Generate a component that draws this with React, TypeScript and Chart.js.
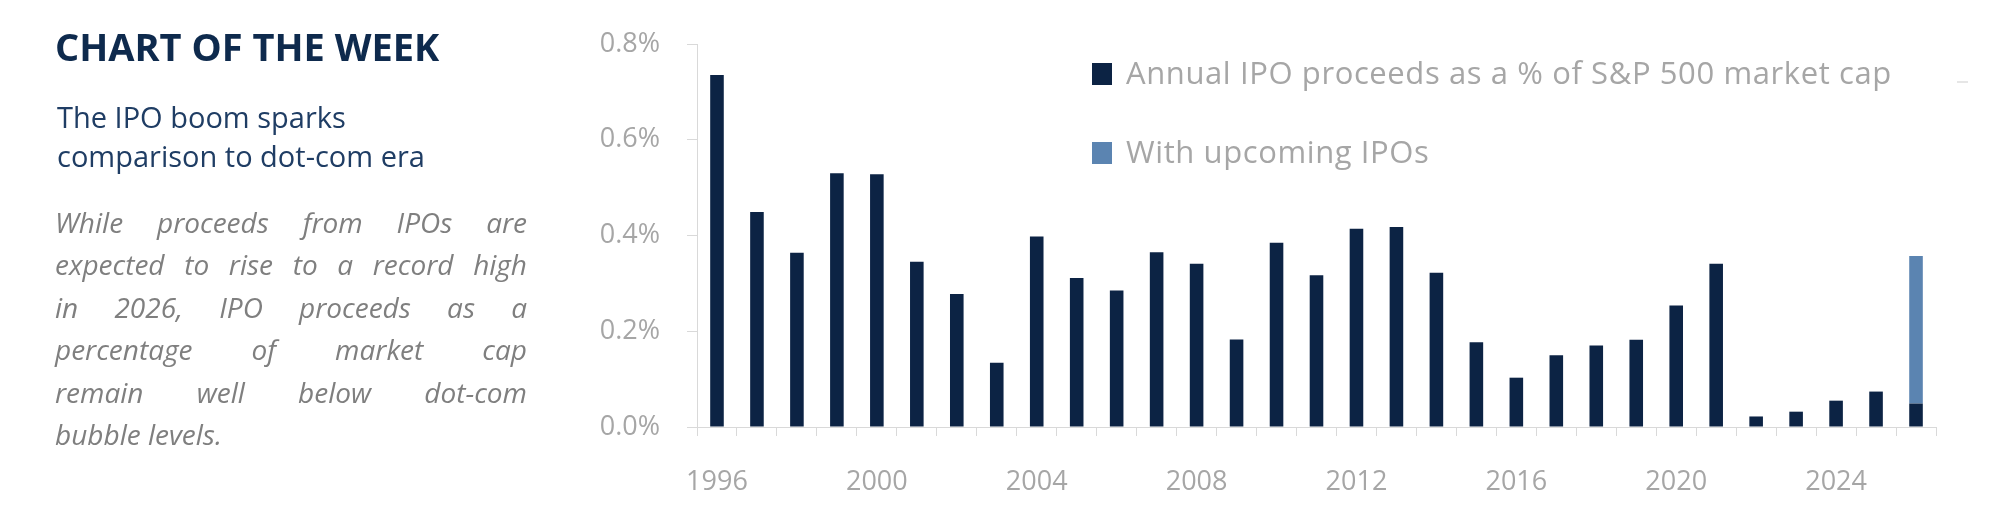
import React, { useEffect, useRef } from "react";
import { Chart, registerables } from "chart.js";

Chart.register(...registerables);

const years = [
  "1996", "1997", "1998", "1999", "2000", "2001", "2002", "2003", "2004", "2005",
  "2006", "2007", "2008", "2009", "2010", "2011", "2012", "2013", "2014", "2015",
  "2016", "2017", "2018", "2019", "2020", "2021", "2022", "2023", "2024", "2025", "2026",
];

const annualProceeds = [
  0.735, 0.449, 0.364, 0.530, 0.528, 0.345, 0.278, 0.134, 0.398, 0.311,
  0.285, 0.365, 0.341, 0.183, 0.385, 0.317, 0.414, 0.418, 0.322, 0.177,
  0.103, 0.150, 0.170, 0.182, 0.254, 0.341, 0.022, 0.032, 0.055, 0.074, 0.049,
];

const upcomingIpos = [
  null, null, null, null, null, null, null, null, null, null,
  null, null, null, null, null, null, null, null, null, null,
  null, null, null, null, null, null, null, null, null, null, 0.308,
];

const xTickLabels = ["1996", "2000", "2004", "2008", "2012", "2016", "2020", "2024"];
const yTickValues = [0, 0.2, 0.4, 0.6, 0.8];

const seriesNames = ["Annual IPO proceeds as a % of S&P 500 market cap", "With upcoming IPOs"];
const NAVY = "#0c2344";
const LIGHT = "#5b84b1";
const GREY_TXT = "#a6a6a6";
const AXIS = "#d9d9d9";
const FONT = "'Open Sans', 'Noto Sans', sans-serif";

const bodyLines = [
  "While proceeds from IPOs are",
  "expected to rise to a record high",
  "in 2026, IPO proceeds as a",
  "percentage of market cap",
  "remain well below dot-com",
  "bubble levels.",
];

export default function App() {
  const ref = useRef<HTMLCanvasElement | null>(null);

  useEffect(() => {
    if (!ref.current) return;
    const chart = new Chart(ref.current, {
      type: "bar",
      data: {
        labels: years,
        datasets: [
          {
            label: seriesNames[0],
            data: annualProceeds,
            backgroundColor: NAVY,
            barPercentage: 0.34,
            categoryPercentage: 1,
          },
          {
            label: seriesNames[1],
            data: upcomingIpos as any,
            backgroundColor: LIGHT,
            barPercentage: 0.34,
            categoryPercentage: 1,
          },
        ],
      },
      options: {
        responsive: false,
        animation: false,
        layout: { padding: { left: 557, right: 70, top: 44, bottom: 0 } },
        plugins: { legend: { display: false }, tooltip: { enabled: false } },
        scales: {
          x: {
            stacked: true,
            grid: { drawOnChartArea: false, drawTicks: true, tickLength: 9, color: AXIS, offset: true },
            border: { color: AXIS, width: 1 },
            ticks: {
              autoSkip: false,
              maxRotation: 0,
              color: GREY_TXT,
              font: { family: FONT, size: 27 },
              padding: 30,
              callback: (_v: any, i: number) => (xTickLabels.includes(years[i]) ? years[i] : ""),
            },
            afterFit: (s: any) => {
              s.height = 85;
            },
          },
          y: {
            stacked: true,
            min: 0,
            max: 0.8,
            afterBuildTicks: (s: any) => {
              s.ticks = yTickValues.map((v) => ({ value: v }));
            },
            grid: { drawOnChartArea: false, drawTicks: true, tickLength: 10, color: AXIS },
            border: { color: AXIS, width: 1 },
            ticks: {
              color: GREY_TXT,
              font: { family: FONT, size: 27 },
              padding: 27,
              callback: (v: any) => Number(v).toFixed(1) + "%",
            },
            afterFit: (s: any) => {
              s.width = 140;
            },
          },
        },
      },
    });
    return () => chart.destroy();
  }, []);

  return (
    <div style={{ position: "absolute", left: 0, top: 0, width: 2006, height: 512, background: "#fff", fontFamily: FONT, overflow: "hidden" }}>
      <canvas ref={ref} width={2006} height={512} style={{ position: "absolute", left: 0, top: 0, width: 2006, height: 512 }} />
      <div style={{ position: "absolute", left: 55, top: 28, fontSize: 38, lineHeight: "37px", fontWeight: 700, color: "#0e2a4d", whiteSpace: "nowrap" }}>
        CHART OF THE WEEK
      </div>
      <div style={{ position: "absolute", left: 57, top: 97, fontSize: 29, lineHeight: "39px", color: "#1f3d64", whiteSpace: "nowrap" }}>
        <div>The IPO boom sparks</div>
        <div>comparison to dot-com era</div>
      </div>
      <div style={{ position: "absolute", left: 55, top: 201, width: 472, fontSize: 28, lineHeight: "42.4px", fontStyle: "italic", color: "#7f7f7f" }}>
        {bodyLines.map((l, i) => (
          <div key={i} style={{ textAlign: i < bodyLines.length - 1 ? "justify" : "left", textAlignLast: i < bodyLines.length - 1 ? "justify" : "left" } as any}>
            {l}
          </div>
        ))}
      </div>
      <div style={{ position: "absolute", left: 1092, top: 63, width: 20, height: 22, background: NAVY }} />
      <div style={{ position: "absolute", left: 1126, top: 57, fontSize: 31, lineHeight: "31px", letterSpacing: "0.6px", color: GREY_TXT, whiteSpace: "nowrap" }}>{seriesNames[0]}</div>
      <div style={{ position: "absolute", left: 1092, top: 142, width: 20, height: 22, background: LIGHT }} />
      <div style={{ position: "absolute", left: 1126, top: 136, fontSize: 31, lineHeight: "31px", letterSpacing: "0.6px", color: GREY_TXT, whiteSpace: "nowrap" }}>{seriesNames[1]}</div>
      <div style={{ position: "absolute", left: 1957, top: 81, width: 11, height: 2, background: "#e6e6e6" }} />
    </div>
  );
}
